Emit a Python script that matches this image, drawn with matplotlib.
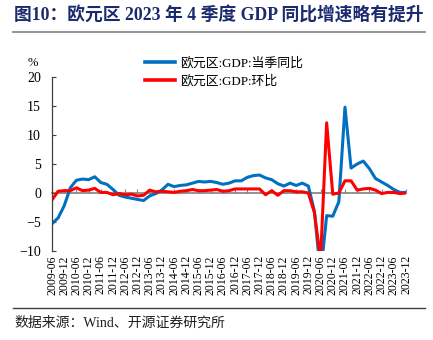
import matplotlib
matplotlib.use("Agg")
import matplotlib.pyplot as plt
from matplotlib.lines import Line2D
import pandas as pd

# quarterly, 2009Q2 .. 2023Q4
quarters = pd.period_range("2009Q2", "2023Q4", freq="Q")
tick_labels = [f"{p.year}-{p.quarter * 3:02d}" for p in quarters]

gdp_yoy = [-5.3, -4.3, -2.2, 0.9, 2.2, 2.4, 2.3, 2.8, 1.8, 1.5,
           0.6, -0.4, -0.7, -0.9, -1.1, -1.3, -0.5, -0.1, 0.5, 1.5,
           1.1, 1.3, 1.4, 1.7, 2.0, 1.9, 2.0, 1.8, 1.5, 1.7,
           2.1, 2.1, 2.7, 3.0, 3.1, 2.6, 2.3, 1.6, 1.2, 1.7,
           1.3, 1.7, 1.2, -3.2, -14.2, -3.9, -4.0, -1.5, 14.8, 4.3,
           5.0, 5.5, 4.2, 2.5, 1.9, 1.3, 0.6, 0.1, 0.1]

gdp_qoq = [-1.2, 0.3, 0.4, 0.4, 0.9, 0.4, 0.5, 0.8, 0.1, 0.1,
           -0.3, -0.1, -0.3, -0.2, -0.5, -0.4, 0.5, 0.2, 0.3, 0.2,
           0.1, 0.3, 0.4, 0.6, 0.4, 0.4, 0.5, 0.6, 0.3, 0.4,
           0.7, 0.7, 0.7, 0.7, 0.7, -0.3, 0.4, -0.4, 0.4, 0.4,
           0.2, 0.2, 0.0, -3.4, -11.5, 12.1, -0.2, 0.0, 2.1, 2.1,
           0.5, 0.7, 0.8, 0.5, -0.1, 0.1, 0.1, -0.1, 0.0]

series_names = ["欧元区:GDP:当季同比", "欧元区:GDP:环比"]
colors = ["#0070C0", "#FF0000"]

serif_cjk = ["Liberation Serif", "Noto Sans CJK SC"]

W, H = 433, 340
fig = plt.figure(figsize=(W / 100, H / 100), dpi=100)

ax = fig.add_axes([52 / W, 1 - 251 / H, (406 - 52) / W, (251 - 77) / H])
x = list(range(len(quarters)))
ax.plot(x, gdp_yoy, color=colors[0], lw=2.2, solid_joinstyle="round")
ax.plot(x, gdp_qoq, color=colors[1], lw=2.2, solid_joinstyle="round")

ax.set_xlim(0, len(quarters) - 1)
ax.set_ylim(-10, 20)
ax.set_yticks([-10, -5, 0, 5, 10, 15, 20])
ax.set_xticks(x[::2])
ax.set_xticklabels(tick_labels[::2], rotation=90, family="Liberation Serif", fontsize=8.5)
for lab in ax.get_yticklabels():
    lab.set_family("Liberation Serif")
    lab.set_fontsize(10)
ax.tick_params(axis="x", length=0, pad=3)
ax.tick_params(axis="y", direction="in", length=3, color="#404040", pad=8)

for s in ["top", "right", "bottom"]:
    ax.spines[s].set_visible(False)
ax.spines["left"].set_color("#404040")
ax.spines["left"].set_linewidth(0.9)

# zero line with its own ticks
sec = ax.secondary_xaxis(1 / 3)
sec.set_xticks(x[::2])
sec.set_xticklabels([])
sec.tick_params(direction="in", length=3, color="#808080")
sec.spines["bottom"].set_color("#808080")
sec.spines["bottom"].set_linewidth(1.2)
sec.set_zorder(0)

handles = [Line2D([], [], color=c, lw=2.6) for c in colors]
fig.legend(handles, series_names, loc="center left",
           bbox_to_anchor=(145 / W, 1 - 72.5 / H), frameon=False,
           prop={"family": serif_cjk, "size": 9.3}, handlelength=2.3,
           handletextpad=0.4, labelspacing=0.45, borderpad=0, borderaxespad=0)

fig.text(33 / W, 1 - 63 / H, "%", family="Liberation Serif", fontsize=9,
         ha="center", va="center")

fig.text(14 / W, 1 - 16 / H, "图10：欧元区 2023 年 4 季度 GDP 同比增速略有提升",
         family=serif_cjk, fontweight="bold", fontsize=12.8, color="#1B2A6E",
         ha="left", va="center")
fig.add_artist(Line2D([13 / W, 425 / W], [1 - 32 / H, 1 - 32 / H],
                      color="#808080", lw=1.2))
fig.add_artist(Line2D([13 / W, 425 / W], [1 - 308 / H, 1 - 308 / H],
                      color="#404040", lw=1.0))
fig.text(14 / W, 1 - 323 / H, "数据来源：Wind、开源证券研究所",
         family=serif_cjk, fontsize=10, color="#202020", ha="left", va="center")

fig.savefig("out.png", dpi=100)
